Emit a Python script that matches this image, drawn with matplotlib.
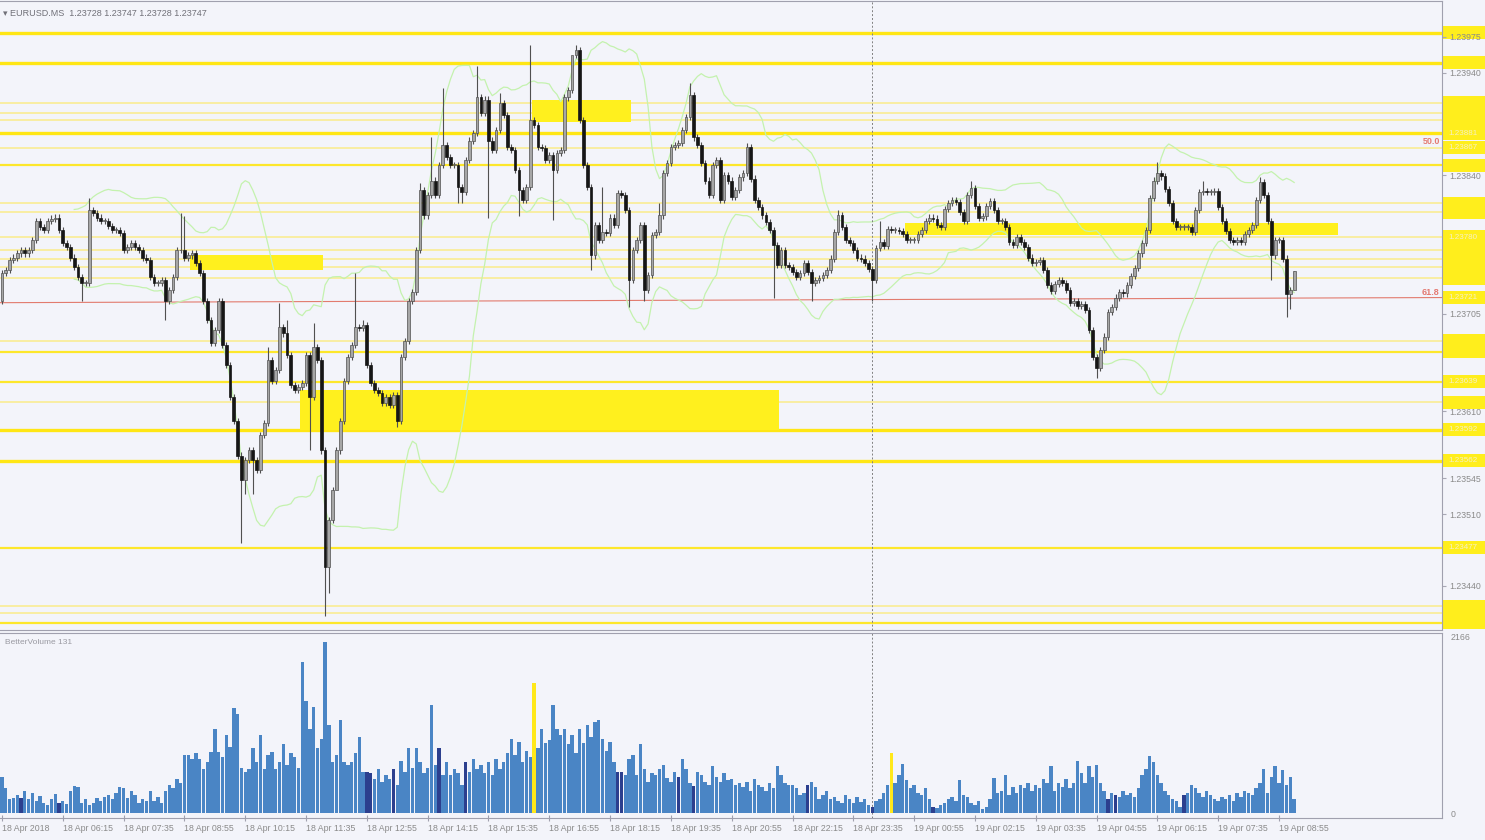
import numpy as np
import pandas as pd
import matplotlib
matplotlib.use("Agg")
import matplotlib.pyplot as plt
from matplotlib.patches import Rectangle
from matplotlib.transforms import blended_transform_factory

plt.rcParams['font.family'] = ['Liberation Sans', 'DejaVu Sans']

# prices are kept as points above 1.23000 (1 point = 0.00001)
BASE = 1.23

first_open = 718
closes = [
    745, 748, 758, 760, 764, 767, 764, 767, 777, 796, 790, 787, 796, 798, 799, 787,
    774, 770, 760, 751, 741, 735, 735, 806, 803, 799, 796, 796, 791, 787, 787, 784,
    767, 770, 774, 770, 767, 760, 758, 741, 735, 735, 738, 718, 728, 741, 767, 767,
    760, 762, 764, 755, 745, 718, 699, 677, 689, 718, 675, 655, 624, 601, 567, 543,
    563, 572, 563, 553, 587, 599, 660, 640, 650, 692, 686, 665, 636, 631, 634, 638,
    665, 624, 673, 660, 572, 458, 504, 533, 572, 601, 640, 663, 675, 692, 691, 694,
    655, 638, 631, 628, 618, 624, 616, 626, 601, 663, 679, 718, 726, 767, 826, 801,
    821, 835, 821, 850, 870, 858, 850, 850, 829, 824, 855, 874, 881, 916, 901, 914,
    874, 865, 884, 911, 899, 868, 865, 845, 826, 816, 829, 894, 889, 868, 867, 855,
    860, 845, 862, 865, 916, 923, 957, 962, 894, 850, 829, 762, 792, 777, 785, 784,
    799, 792, 823, 821, 806, 738, 767, 777, 792, 728, 743, 782, 785, 801, 842, 852,
    868, 870, 872, 884, 897, 918, 877, 870, 852, 835, 821, 850, 855, 816, 840, 835,
    819, 826, 838, 842, 868, 837, 816, 809, 801, 795, 787, 772, 753, 767, 753, 751,
    746, 741, 745, 755, 746, 735, 738, 740, 743, 748, 759, 785, 801, 790, 777, 774,
    767, 760, 759, 755, 749, 738, 769, 775, 771, 788, 787, 787, 786, 783, 777, 777,
    777, 783, 787, 796, 799, 798, 792, 790, 807, 813, 816, 814, 804, 796, 821, 828,
    810, 799, 800, 810, 815, 806, 796, 796, 790, 775, 772, 780, 775, 770, 760, 755,
    756, 758, 748, 733, 727, 734, 738, 735, 728, 716, 718, 713, 715, 709, 689, 663,
    652, 670, 683, 707, 712, 721, 726, 725, 733, 742, 750, 764, 774, 787, 818, 835,
    842, 839, 827, 813, 796, 790, 790, 790, 790, 785, 806, 824, 825, 824, 824, 825,
    809, 796, 786, 777, 775, 777, 775, 783, 787, 792, 816, 834, 821, 796, 762, 777,
    777, 759, 724, 728, 747,
]

# wick extremes that stand out (index: price)
spike_highs = {23: 818, 47: 803, 48: 800, 70: 673, 73: 716, 75: 699, 82: 696,
               93: 745, 95: 699, 110: 833, 113: 877, 116: 925, 125: 947, 131: 920,
               139: 967, 150: 955, 151: 967, 158: 829, 173: 813, 181: 930, 196: 872,
               220: 806, 231: 796, 255: 835, 304: 853, 316: 835, 331: 838, 340: 747}
spike_lows = {21: 718, 43: 699, 63: 482, 64: 530, 66: 530, 81: 572, 85: 411,
              86: 433, 88: 540, 104: 595, 120: 813, 121: 813, 128: 799, 136: 800,
              145: 797, 155: 748, 165: 712, 169: 718, 203: 721, 213: 718, 229: 718,
              288: 643, 334: 738, 338: 702, 339: 710, 340: 728}
WICK = 3

volumes = [
    440, 310, 170, 180, 220, 180, 270, 170, 250, 150, 210, 120, 100, 170, 230, 120,
    150, 110, 270, 330, 320, 120, 170, 100, 120, 180, 150, 200, 220, 170, 250, 320,
    300, 180, 270, 220, 120, 170, 150, 270, 150, 200, 120, 270, 340, 300, 420, 370,
    710, 710, 660, 740, 660, 540, 620, 750, 1030, 750, 680, 960, 810, 1280, 1210, 550,
    500, 540, 790, 630, 960, 540, 710, 750, 540, 630, 840, 590, 740, 680, 550, 1850,
    1370, 1030, 1300, 790, 910, 2090, 1080, 630, 710, 1140, 630, 590, 630, 740, 930, 500,
    500, 490, 420, 540, 380, 470, 420, 540, 340, 640, 500, 790, 550, 790, 620, 490,
    550, 1320, 590, 790, 470, 630, 470, 540, 490, 340, 630, 500, 660, 540, 590, 490,
    630, 470, 660, 540, 630, 740, 910, 710, 870, 620, 760, 680, 1590, 790, 1030, 860,
    890, 1320, 1030, 960, 1030, 840, 960, 740, 1030, 860, 1080, 930, 1120, 1140, 910, 760,
    870, 620, 500, 500, 470, 660, 710, 470, 840, 540, 380, 490, 470, 540, 590, 430,
    380, 500, 440, 660, 540, 370, 330, 500, 470, 380, 340, 580, 440, 380, 490, 410,
    420, 340, 370, 320, 380, 270, 420, 340, 320, 270, 370, 310, 580, 470, 370, 340,
    340, 300, 220, 250, 340, 380, 320, 170, 220, 270, 170, 200, 150, 120, 220, 170,
    120, 200, 140, 170, 100, 70, 150, 170, 250, 340, 730, 370, 470, 600, 410, 300,
    340, 250, 220, 300, 170, 70, 60, 100, 120, 170, 200, 150, 410, 220, 200, 120,
    100, 150, 50, 70, 170, 430, 250, 270, 460, 220, 320, 250, 340, 300, 370, 270,
    340, 300, 420, 370, 570, 270, 370, 320, 420, 300, 370, 640, 490, 370, 570, 440,
    590, 370, 270, 170, 250, 220, 200, 270, 220, 250, 200, 300, 470, 540, 700, 620,
    470, 370, 270, 220, 170, 150, 70, 220, 250, 340, 300, 250, 200, 270, 220, 170,
    150, 200, 170, 220, 150, 250, 200, 270, 250, 220, 300, 370, 540, 250, 440, 570,
    370, 530, 340, 440, 170,
]
low_volume_bars = [5, 15, 96, 97, 103, 115, 122, 162, 163, 178, 182, 212, 229, 245, 291, 293, 311]
climax_bars = [140, 234]
vol_max_label = 2166

# horizontal levels
heavy_levels = [979, 950, 881, 592, 562]
medium_levels = [850, 668, 639, 477, 404]
light_levels = [911, 901, 894, 867, 813, 804, 780, 767, 759, 751, 740, 679, 619, 420, 414]
fib_618 = (716, 721)   # left end, right end
fib_labels = ['50.0', '61.8']
fib_label_prices = [873.5, 725.5]

# supply / demand zones (candle index start, end, price low, high)
zone_start = [49.5, 78.5, 139.5, 237.5]
zone_end = [84.5, 204.5, 165.5, 351.5]
zone_low = [748, 592, 892, 782]
zone_high = [762, 631, 914, 794]

# scale labels that stay readable (the rest sit under the level boxes)
price_ticks = ['1.23975', '1.23940', '1.23840', '1.23705', '1.23610',
               '1.23545', '1.23510', '1.23440']
time_labels = ['18 Apr 2018', '18 Apr 06:15', '18 Apr 07:35', '18 Apr 08:55', '18 Apr 10:15',
               '18 Apr 11:35', '18 Apr 12:55', '18 Apr 14:15', '18 Apr 15:35', '18 Apr 16:55',
               '18 Apr 18:15', '18 Apr 19:35', '18 Apr 20:55', '18 Apr 22:15', '18 Apr 23:35',
               '19 Apr 00:55', '19 Apr 02:15', '19 Apr 03:35', '19 Apr 04:55', '19 Apr 06:15',
               '19 Apr 07:35', '19 Apr 08:55']
bars_per_label = 16
day_break = 229


def px(p):
    return BASE + np.asarray(p, dtype=float) / 1e5


n = len(closes)
idx = np.arange(n)
c = np.array(closes, dtype=float)
o = np.concatenate([[first_open], c[:-1]])
h = np.maximum(o, c) + WICK
l = np.minimum(o, c) - WICK
for k, v in spike_highs.items():
    h[k] = v
for k, v in spike_lows.items():
    l[k] = v

bg = '#f3f4fa'
fig = plt.figure(figsize=(14.85, 8.4), dpi=100, facecolor=bg)
ax = fig.add_axes([0, 0.25, 1442 / 1485, 0.7488], facecolor=bg)
ax2 = fig.add_axes([0, 0.0262, 1442 / 1485, 0.2202], facecolor=bg)

# levels
for lv in heavy_levels:
    ax.axhline(px(lv), color='#ffe614', lw=2.4, zorder=1)
for lv in medium_levels:
    ax.axhline(px(lv), color='#ffe614', lw=1.6, alpha=0.9, zorder=1)
for lv in light_levels:
    ax.axhline(px(lv), color='#ffe640', lw=1.1, alpha=0.6, zorder=1)

xmin, xmax = -0.53, 378.9
ax.plot([xmin, xmax], px(fib_618), color='#e27b6e', lw=0.8, zorder=1.2)

for s, e, lo, hi in zip(zone_start, zone_end, zone_low, zone_high):
    ax.add_patch(Rectangle((s, px(lo)), e - s, px(hi) - px(lo), facecolor='#fff01e',
                           edgecolor='none', zorder=1.5))

# bollinger bands
cs = pd.Series(px(c))
mid = cs.rolling(20).mean()
sd = cs.rolling(20).std(ddof=0)
ax.plot(idx, mid + 2 * sd, color='#c4f2ae', lw=0.9, zorder=2)
ax.plot(idx, mid - 2 * sd, color='#c4f2ae', lw=0.9, zorder=2)

# candles
ax.vlines(idx, px(l), px(h), color='#505050', lw=0.8, zorder=3)
bull = c >= o
body_lo = np.minimum(o, c)
body_h = np.maximum(np.abs(c - o), 0.7)
ax.bar(idx[bull], px(body_lo[bull] + body_h[bull]) - px(body_lo[bull]), 0.72,
       bottom=px(body_lo[bull]), color='#a6a6a6', edgecolor='#505050', lw=0.5, zorder=4)
ax.bar(idx[~bull], px(body_lo[~bull] + body_h[~bull]) - px(body_lo[~bull]), 0.72,
       bottom=px(body_lo[~bull]), color='#161616', edgecolor='#161616', lw=0.5, zorder=4)

ax.set_xlim(xmin, xmax)
ax.set_ylim(px(397), px(1010))
ax.set_xticks([])
ax.yaxis.tick_right()
tick_vals = [float(t) for t in price_ticks]
ax.set_yticks(tick_vals)
ax.set_yticklabels(price_ticks)
ax.tick_params(axis='y', direction='out', length=3, pad=2, labelsize=6.3,
               labelcolor='#8a8a8a', color='#a8a8b4')
ax.spines['left'].set_visible(False)
for side in ['top', 'right', 'bottom']:
    ax.spines[side].set_color('#a0a0ae')
    ax.spines[side].set_linewidth(0.8)
ax.axvline(day_break, color='#808080', lw=0.7, ls=(0, (2, 2)), zorder=2.2)

# price boxes on the right scale, text only where a box stands alone
tr = blended_transform_factory(ax.transAxes, ax.transData)
box_levels = sorted(heavy_levels + medium_levels + light_levels + [fib_618[1]])
box_x0, box_x1 = 1.0008, 1485 / 1442
box_half = 6.4
tick_pts = [(t - BASE) * 1e5 for t in tick_vals]
for i, lv in enumerate(box_levels):
    ax.add_patch(Rectangle((box_x0, px(lv - box_half)), box_x1 - box_x0,
                           px(lv + box_half) - px(lv - box_half), transform=tr,
                           facecolor='#ffee1c', edgecolor='none', clip_on=False, zorder=0.5))
    others = [abs(lv - v) for v in box_levels if v != lv] + [abs(lv - t) for t in tick_pts]
    if min(others) >= 13:
        ax.text(1.0045, px(lv), f"{px(lv):.5f}", transform=tr, ha='left', va='center',
                fontsize=5.8, color='#f6f0c4', clip_on=False, zorder=7)
for lab, p in zip(fib_labels, fib_label_prices):
    ax.text(0.9985, px(p), lab, transform=tr, ha='right', va='center', fontsize=6.5,
            color='#e47a72', fontweight='bold', zorder=6)

fig.text(3 / 1485, 1 - 13 / 840, '\u25be EURUSD.MS  1.23728 1.23747 1.23728 1.23747',
         fontsize=6.5, color='#707078', va='center', ha='left')

# volume panel
vcol = ['#4a85c5'] * n
for k in low_volume_bars:
    vcol[k] = '#2c3f8e'
for k in climax_bars:
    vcol[k] = '#ffe81a'
ax2.bar(idx, volumes, 0.88, color=vcol, lw=0, zorder=3)
ax2.set_xlim(xmin, xmax)
ax2.set_ylim(-61, 2203)
ax2.yaxis.tick_right()
ax2.set_yticks([0, vol_max_label])
ax2.set_yticklabels(['0', str(vol_max_label)])
ax2.tick_params(axis='y', length=0, pad=6, labelsize=6.3, labelcolor='#8a8a8a')
ax2.set_xticks(np.arange(len(time_labels)) * bars_per_label)
ax2.set_xticklabels(time_labels, ha='left')
ax2.tick_params(axis='x', direction='inout', length=4, pad=2, labelsize=6.3,
                labelcolor='#8a8a8a', color='#a0a0ae')
ax2.spines['left'].set_visible(False)
for side in ['top', 'right', 'bottom']:
    ax2.spines[side].set_color('#a0a0ae')
    ax2.spines[side].set_linewidth(0.8)
ax2.axvline(day_break, color='#808080', lw=0.7, ls=(0, (2, 2)), zorder=2)
fig.text(5 / 1485, 1 - 643 / 840, 'BetterVolume 131', fontsize=6, color='#9a9aa2',
         va='center', ha='left')

fig.savefig('out.png', dpi=100, facecolor=bg)
